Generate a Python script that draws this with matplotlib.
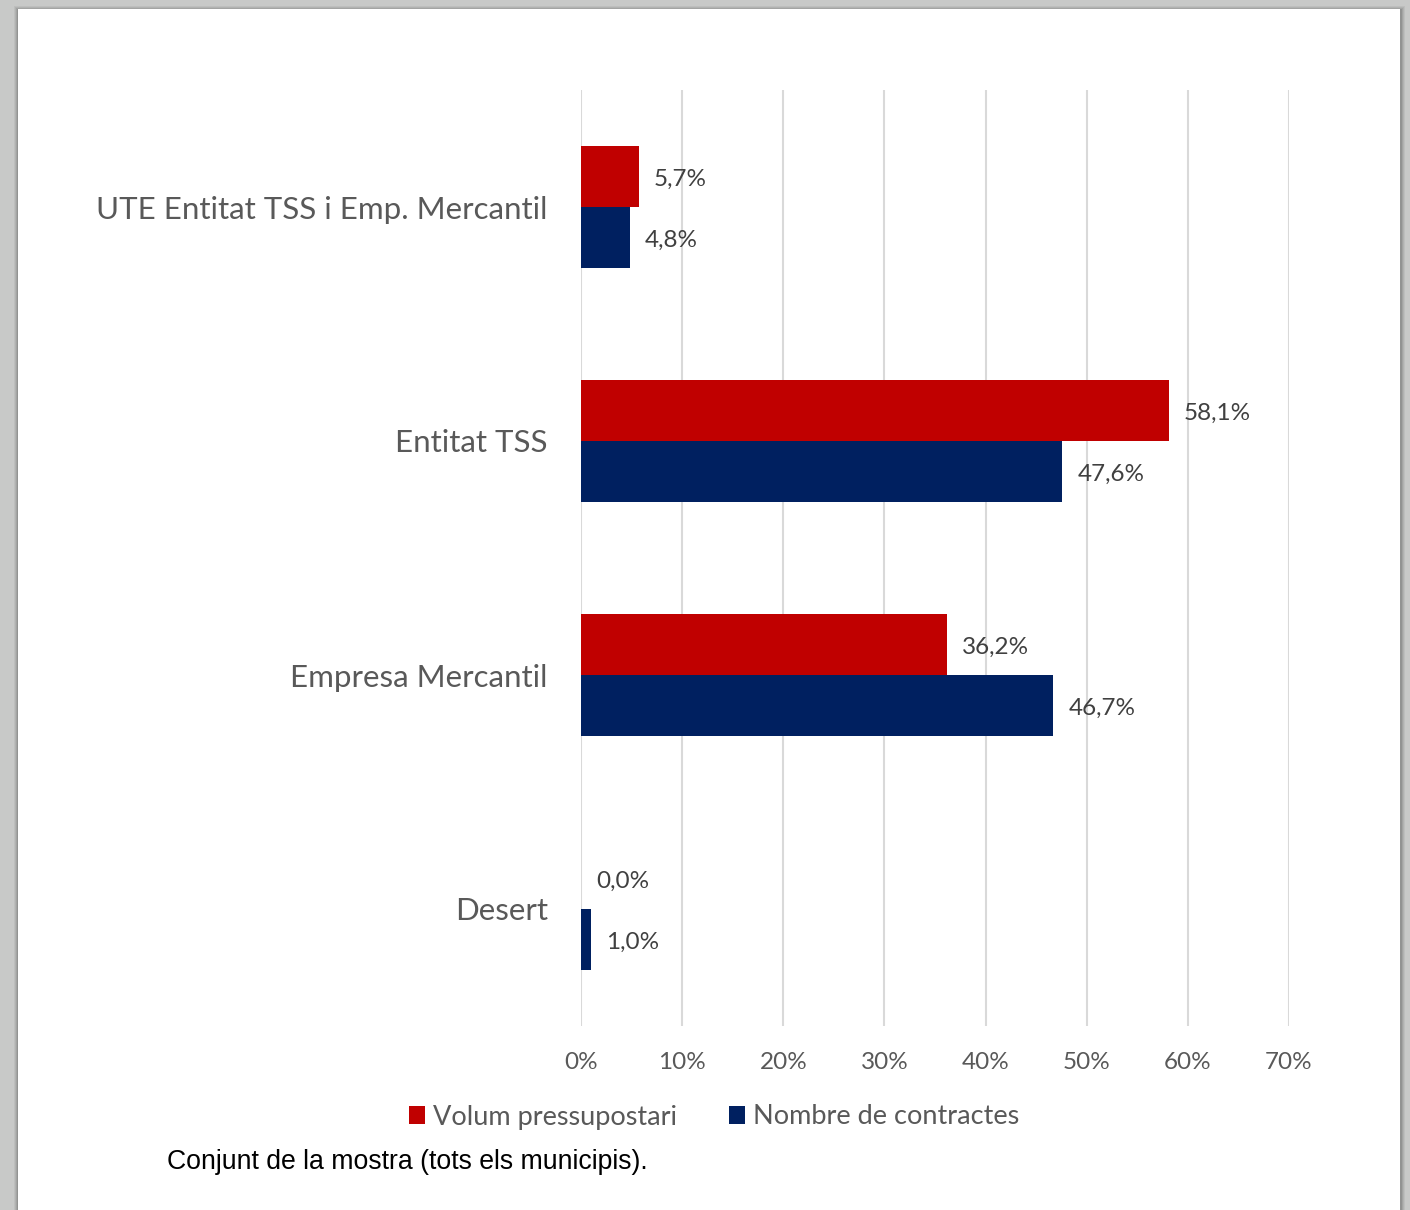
import matplotlib
matplotlib.use("Agg")
import matplotlib.pyplot as plt
from matplotlib.patches import Rectangle
import matplotlib.transforms as mtransforms
import numpy as np

categories = ["UTE Entitat TSS i Emp. Mercantil", "Entitat TSS", "Empresa Mercantil", "Desert"]
volum = [5.7, 58.1, 36.2, 0.0]
nombre = [4.8, 47.6, 46.7, 1.0]
xticks = [0, 10, 20, 30, 40, 50, 60, 70]
series_names = ["Volum pressupostari", "Nombre de contractes"]
caption = "Conjunt de la mostra (tots els municipis)."

RED = "#C00000"
NAVY = "#002060"
TXT = "#595959"
FONT = ["Lato", "DejaVu Sans"]

W, H = 1410, 1210
fig = plt.figure(figsize=(W / 100, H / 100), dpi=100)
fig.patch.set_facecolor("#c8c9c8")

# page background with a soft shadow around it
bg = fig.add_axes([0, 0, 1, 1], zorder=-10)
bg.set_xlim(0, W)
bg.set_ylim(H, 0)
bg.axis("off")
for i, a in enumerate([0.05, 0.06, 0.08, 0.10]):
    g = 4 - i
    bg.add_patch(Rectangle((18 - g, 9 - g + 1), 1382 + 2 * g + 1, H, color="black", alpha=a, lw=0))
bg.add_patch(Rectangle((18, 9), 1382, H, color="white", lw=0))

left, right = 581 / W, 1289 / W
top, bottom = 1 - 90 / H, 1 - 1026 / H
ax = fig.add_axes([left, bottom, right - left, top - bottom])
ax.set_facecolor("none")

n = len(categories)
y = np.arange(n)[::-1].astype(float)
h = 0.26
b1 = ax.barh(y + h / 2, volum, height=h, color=RED, label=series_names[0])
b2 = ax.barh(y - h / 2, nombre, height=h, color=NAVY, label=series_names[1])

for bars, vals in ((b1, volum), (b2, nombre)):
    for bar, v in zip(bars, vals):
        ax.annotate(f"{v:.1f}%".replace(".", ","),
                    (v, bar.get_y() + bar.get_height() / 2),
                    xytext=(15, -3), textcoords="offset pixels",
                    ha="left", va="center", fontsize=17.5, color="#404040", family=FONT)

ax.set_xlim(0, 70)
ax.set_ylim(-0.5, n - 0.5)
ax.set_xticks(xticks)
ax.set_xticklabels([f"{t}%" for t in xticks], fontsize=17.5, color=TXT, family=FONT)
ax.set_yticks(y)
ax.set_yticklabels(categories, fontsize=22.5, color=TXT, family=FONT)
# lift category labels slightly
shift = mtransforms.ScaledTranslation(0, 3 / 100, fig.dpi_scale_trans)
for lbl in ax.get_yticklabels():
    lbl.set_transform(lbl.get_transform() + shift)
ax.tick_params(axis="both", length=0)
ax.tick_params(axis="x", pad=19)
ax.tick_params(axis="y", pad=24)
ax.grid(axis="x", color="#d9d9d9", lw=1.5)
ax.set_axisbelow(True)
for s in ax.spines.values():
    s.set_visible(False)

leg = fig.legend(handles=[b1, b2], labels=series_names, loc="center",
                 bbox_to_anchor=(714 / W, 1 - 1117 / H), ncol=2, frameon=False,
                 handlelength=0.6, handleheight=0.6, handletextpad=0.3, columnspacing=1.9,
                 prop={"family": FONT, "size": 19.5})
for t in leg.get_texts():
    t.set_color(TXT)

fig.text(167 / W, 1 - 1162 / H, caption, ha="left", va="center", fontsize=19.2,
         color="black", family=["Liberation Sans", "DejaVu Sans"])

fig.savefig("out.png", dpi=100, facecolor=fig.get_facecolor())
